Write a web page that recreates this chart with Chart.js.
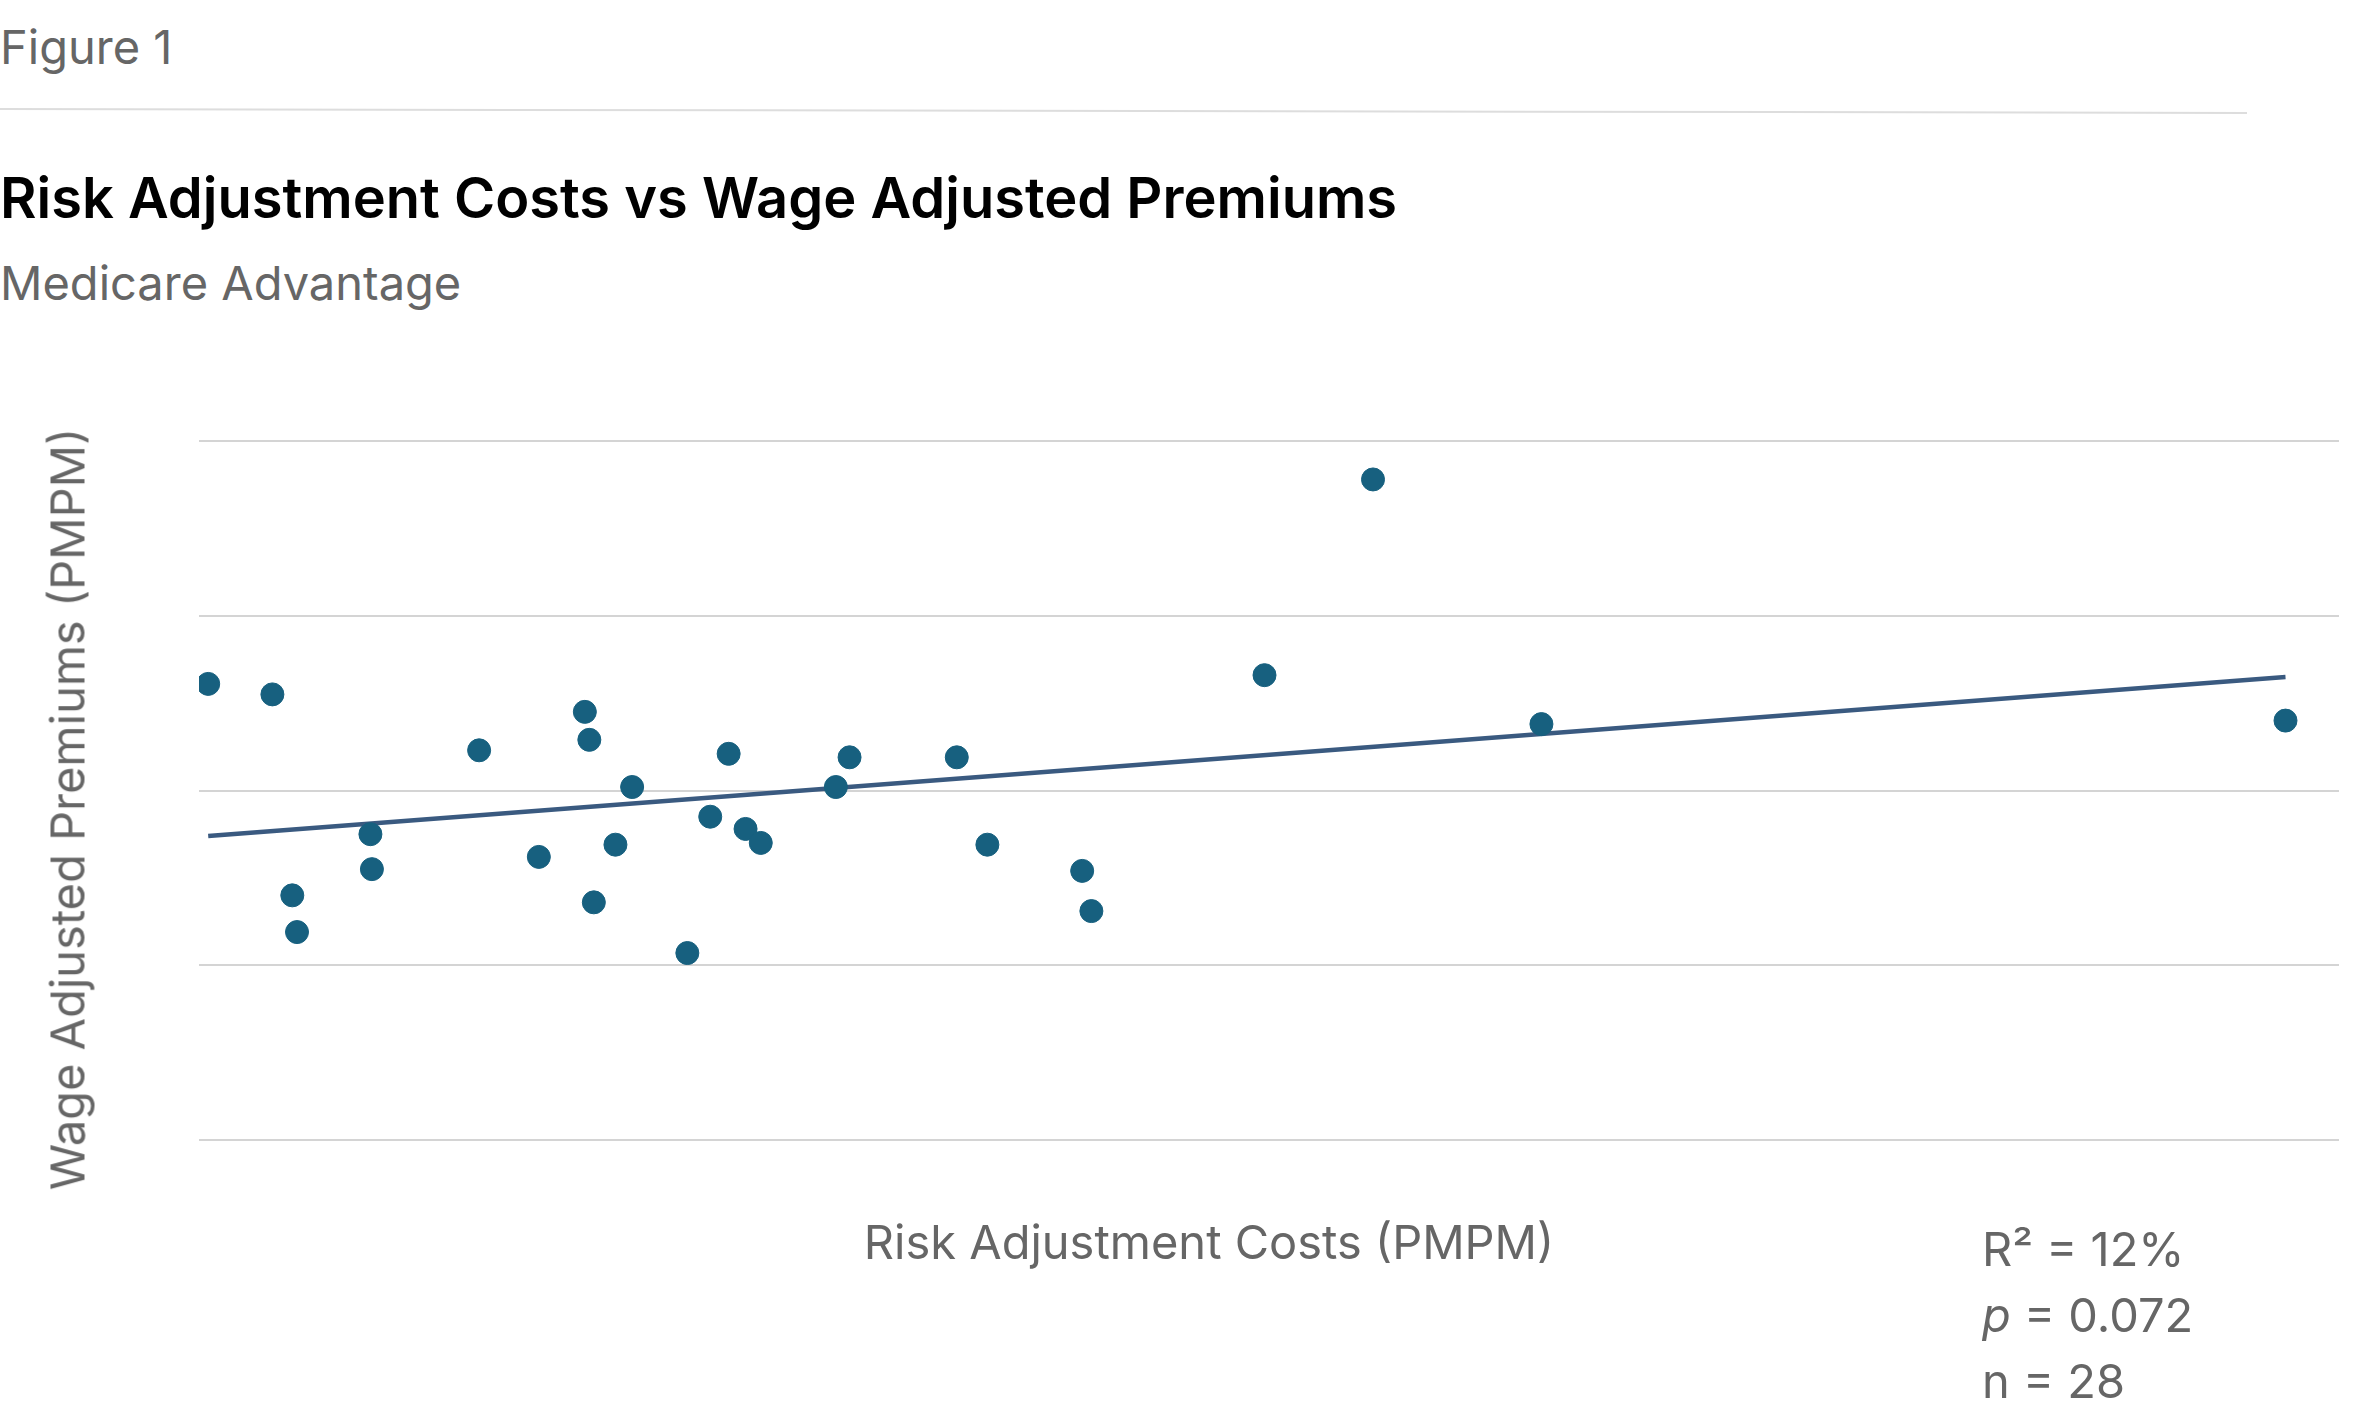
<!DOCTYPE html>
<html><head><meta charset="utf-8">
<script src="https://cdn.jsdelivr.net/npm/chart.js@4"></script>
<style>
html,body{margin:0;padding:0;background:#fff;width:2365px;height:1406px;overflow:hidden;font-family:Inter,"Noto Sans",sans-serif;}
.t{position:absolute;white-space:nowrap;color:#666;}
#wrap{position:absolute;left:0;top:0;width:2365px;height:1406px;}
</style></head><body>
<div class="t" style="left:0;top:18px;font-size:47px;">Figure 1</div>
<div style="position:absolute;left:0;top:108px;width:2247px;height:2px;background:#ddd;transform:rotate(0.1deg);transform-origin:left;"></div>
<div class="t" style="left:0;top:164px;font-size:56px;font-weight:600;color:#000;">Risk Adjustment Costs vs Wage Adjusted Premiums</div>
<div class="t" style="left:0;top:254px;font-size:47px;">Medicare Advantage</div>
<div id="wrap"><canvas id="c"></canvas></div>
<div class="t" style="left:67px;top:809px;font-size:47px;transform:translate(-50%,-50%) rotate(-90deg);">Wage Adjusted Premiums (PMPM)</div>
<div class="t" style="left:1209px;top:1241px;font-size:47px;transform:translate(-50%,-50%);">Risk Adjustment Costs (PMPM)</div>
<div class="t" style="left:1982px;top:1216px;font-size:47px;line-height:66px;">R² = 12%<br><i>p</i> = 0.072<br>n = 28</div>
<script>
const xValues=[0.43,3.43,4.36,4.58,8.01,8.08,13.09,15.88,18.03,18.24,18.45,19.46,20.24,22.82,23.89,24.75,25.54,26.25,29.76,30.40,35.41,36.84,41.27,41.70,49.79,54.86,62.73,97.50];
const yValues=[2.61,2.55,1.40,1.19,1.75,1.55,2.23,1.62,2.45,2.29,1.36,1.69,2.02,1.07,1.85,2.21,1.78,1.70,2.02,2.19,2.19,1.69,1.54,1.31,2.66,3.78,2.38,2.40];
const trendX=[0.43,97.5];
const trendY=[1.74,2.65];
const pts=xValues.map((x,i)=>({x:x,y:yValues[i]}));
const line=trendX.map((x,i)=>({x:x,y:trendY[i]}));
new Chart(document.getElementById('c'),{
 type:'scatter',
 data:{datasets:[
  {type:'line',data:line,borderColor:'#3a5a80',borderWidth:4.5,pointRadius:0,fill:false,order:2},
  {data:pts,backgroundColor:'#17607f',borderColor:'#17607f',pointRadius:11.5,pointHoverRadius:11.5,order:1}
 ]},
 options:{responsive:true,maintainAspectRatio:false,devicePixelRatio:1,animation:false,
  layout:{padding:{left:199,right:26,top:441,bottom:266}},
  plugins:{legend:{display:false},tooltip:{enabled:false}},
  scales:{
   x:{type:'linear',min:0,max:100,display:false},
   y:{min:0,max:4,ticks:{display:false,stepSize:1},border:{display:false},grid:{color:'#d4d4d4',lineWidth:2,drawTicks:false}}
  }}
});
</script>
</body></html>
